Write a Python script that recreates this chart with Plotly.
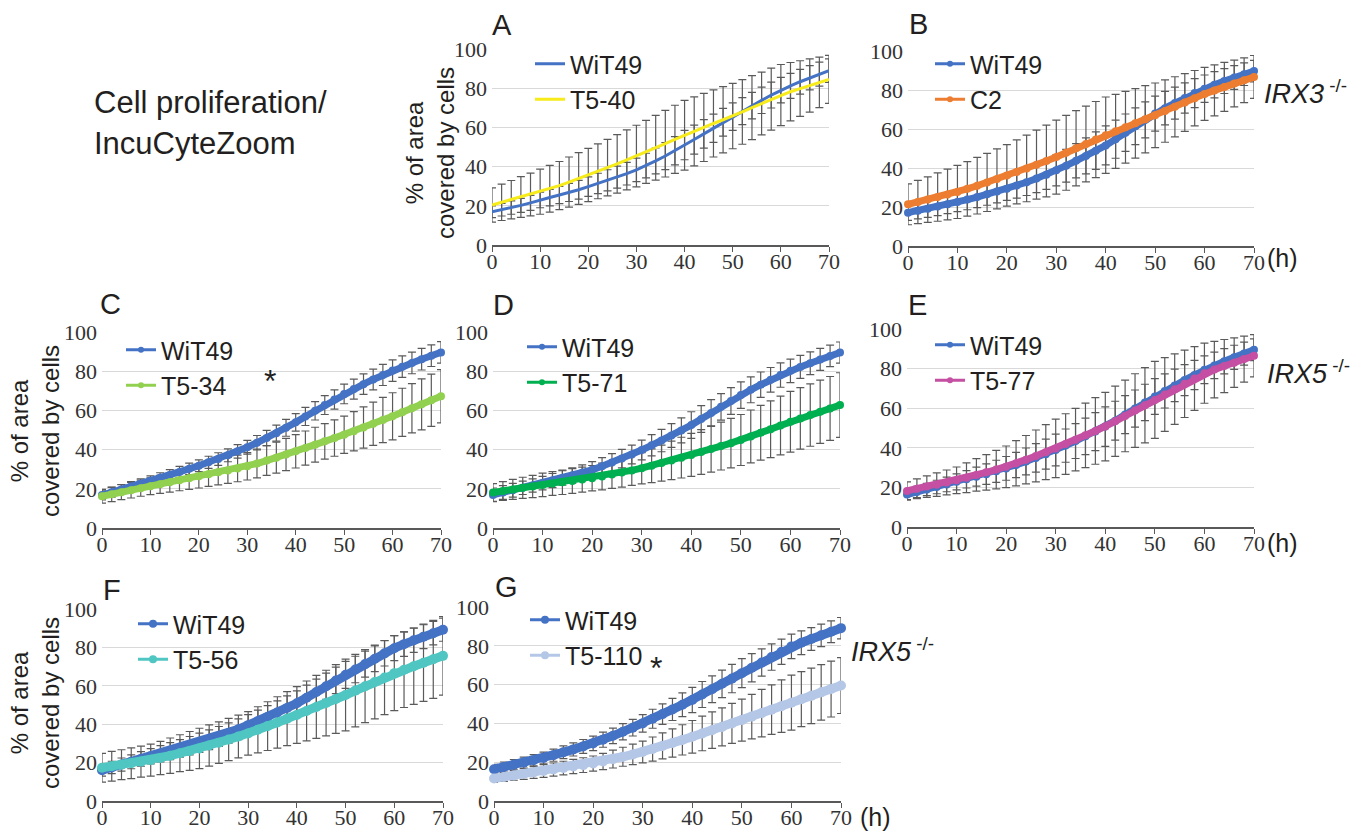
import plotly.graph_objects as go

W, H = 1362, 834

# ---------------- data ----------------
HOURS = list(range(0, 71, 2))
TICKS_X = [0, 10, 20, 30, 40, 50, 60, 70]
TICKS_Y = [0, 20, 40, 60, 80, 100]

# Panel A
A_WIT49 = [17, 18, 19.1, 20.2, 21.5, 23, 24.2, 25.5, 26.8, 28.2, 29.8, 31.4, 33, 34.6, 36.4, 38.3, 40.5, 42.9,
           45.4, 48.1, 51, 53.8, 56.7, 59.6, 62.6, 65.5, 68.3, 71.1, 73.8, 76.5, 79, 81.2, 83.3, 85.3, 87.2, 89]
A_T540 = [20.4, 21.8, 23.1, 24.5, 25.8, 27.2, 28.7, 30.3, 32.1, 33.9, 35.7, 37.6, 39.5, 41.4, 43.4, 45.4, 47.5, 49.6,
          51.7, 53.9, 56, 58, 60, 62, 63.9, 65.8, 67.9, 70.1, 72.2, 74.4, 76.5, 78.2, 79.8, 81.4, 83, 84.5]
A_WIT49_SD = [3, 3.2, 3.4, 3.6, 3.8, 4, 4.2, 4.4, 4.6, 4.8, 5, 5.2, 5.4, 5.6, 5.8, 6, 6.3, 6.6,
              6.9, 7.2, 7.5, 7.4, 7.3, 7.2, 7.1, 7, 6.9, 6.8, 6.7, 6.6, 6.5, 6.4, 6.3, 6.2, 6.1, 6]
A_T540_SD = [8.7, 9.3, 9.8, 10.4, 10.9, 11.5, 11.9, 12.3, 12.8, 13.2, 13.6, 14, 14.4, 14.9, 15.3, 15.7, 16.1, 16.5,
             17, 17.4, 17.8, 17.6, 17.4, 17.1, 16.9, 16.7, 16.5, 16.3, 16, 15.8, 15.6, 14.9, 14.2, 13.6, 12.9, 12.2]

# Panel B
B_WIT49 = [17.1, 18.1, 19.1, 20.2, 21.4, 22.6, 23.8, 25.1, 26.5, 27.9, 29.4, 31, 32.7, 34.6, 36.6, 38.8, 41.2, 43.7,
           46.2, 48.9, 51.6, 54.8, 58.1, 61.4, 64.7, 67.9, 70.7, 73.3, 75.9, 78.4, 80.7, 82.7, 84.6, 86.4, 88.1, 89.7]
B_C2 = [21.4, 22.6, 23.8, 25.1, 26.4, 27.7, 29.3, 30.9, 32.6, 34.4, 36.2, 38, 39.8, 41.7, 43.6, 45.6, 47.8, 50.1,
        52.3, 54.6, 56.8, 58.8, 60.9, 62.9, 65, 67, 69.2, 71.4, 73.6, 75.8, 78, 79.8, 81.6, 83.3, 85, 86.7]
B_WIT49_SD = [4, 4.2, 4.4, 4.6, 4.8, 5, 5.2, 5.4, 5.6, 5.8, 6, 6.4, 6.8, 7.2, 7.6, 8, 8.4, 8.8,
              9.2, 9.6, 10, 9.8, 9.6, 9.4, 9.2, 9, 8.6, 8.2, 7.8, 7.4, 7, 6.7, 6.4, 6.1, 5.8, 5.5]
B_C2_SD = [10.5, 11.1, 11.7, 12.4, 13, 13.6, 14, 14.5, 14.9, 15.4, 15.8, 16.4, 17.1, 17.7, 18.4, 19, 19.2, 19.3,
           19.4, 19.5, 19.6, 19, 18.4, 17.8, 17.2, 16.6, 16, 15.4, 14.8, 14.2, 13.6, 13.1, 12.6, 12, 11.5, 11]

# Panel C
C_WIT49 = [16.8, 18.2, 19.7, 21.2, 22.6, 24.1, 25.6, 27.1, 28.6, 30.2, 31.8, 33.5, 35.2, 37.1, 39.1, 41.2, 43.5, 45.9,
           48.4, 51.1, 53.9, 56.9, 59.8, 62.7, 65.6, 68.4, 70.9, 73.4, 75.8, 78.1, 80.3, 82.3, 84.2, 86.1, 87.9, 89.6]
C_T534 = [16.2, 17.2, 18.3, 19.3, 20.3, 21.3, 22.3, 23.3, 24.3, 25.4, 26.4, 27.4, 28.4, 29.4, 30.4, 31.5, 32.9, 34.4,
          35.9, 37.5, 39.1, 40.8, 42.5, 44.2, 45.9, 47.6, 49.4, 51.3, 53.2, 55.1, 57, 59, 61.1, 63.1, 65.2, 67.2]
C_WIT49_SD = [2.5, 2.5, 2.5, 2.5, 2.5, 2.5, 2.6, 2.7, 2.8, 2.9, 3, 3.1, 3.2, 3.3, 3.4, 3.5, 3.7, 3.9,
              4.1, 4.3, 4.5, 4.6, 4.7, 4.8, 4.9, 5, 5.1, 5.2, 5.3, 5.4, 5.5, 5.5, 5.5, 5.5, 5.5, 5.5]
C_T534_SD = [3.5, 3.7, 3.8, 4, 4.1, 4.3, 4.6, 5, 5.3, 5.7, 6, 6.2, 6.4, 6.6, 6.8, 7, 7.3, 7.6,
             7.9, 8.2, 8.5, 8.7, 8.9, 9.1, 9.3, 9.5, 10, 10.5, 11, 11.5, 12, 12.3, 12.6, 13, 13.3, 13.6]

# Panel D
D_WIT49 = [16.9, 18.1, 19.3, 20.5, 21.7, 22.9, 24.2, 25.5, 26.8, 28.2, 29.7, 31.5, 33.4, 35.4, 37.5, 39.8, 42.2, 44.6,
           47.2, 49.8, 52.5, 55.6, 58.7, 61.8, 64.8, 67.8, 70.5, 73.1, 75.6, 78, 80.2, 82.2, 84.1, 86, 87.8, 89.5]
D_T571 = [18.1, 18.9, 19.7, 20.5, 21.2, 22, 22.7, 23.3, 24, 24.7, 25.4, 26.3, 27.3, 28.3, 29.4, 30.5, 31.8, 33.1,
          34.5, 35.9, 37.3, 38.8, 40.3, 41.8, 43.3, 44.9, 46.7, 48.6, 50.4, 52.3, 54.2, 55.9, 57.6, 59.3, 61, 62.7]
D_WIT49_SD = [3.5, 3.5, 3.5, 3.4, 3.4, 3.4, 3.6, 3.7, 3.9, 4, 4.2, 4.4, 4.5, 4.7, 4.8, 5, 5.4, 5.7,
              6.1, 6.4, 6.8, 6.8, 6.8, 6.8, 6.8, 6.8, 6.6, 6.5, 6.3, 6.2, 6, 5.9, 5.8, 5.6, 5.5, 5.4]
D_T571_SD = [4.5, 4.8, 5.1, 5.4, 5.7, 6, 6.1, 6.2, 6.3, 6.4, 6.5, 6.8, 7.1, 7.4, 7.7, 8, 8.6, 9.2,
             9.8, 10.4, 11, 11.4, 11.8, 12.2, 12.6, 13, 13.5, 14, 14.5, 15, 15.5, 15.7, 15.9, 16.1, 16.3, 16.5]

# Panel E
E_WIT49 = [16.4, 17.7, 18.9, 20.2, 21.5, 22.8, 24.1, 25.4, 26.7, 28.1, 29.6, 31.3, 33.1, 34.9, 36.8, 38.9, 41.1, 43.4,
           45.8, 48.2, 50.7, 53.7, 56.8, 59.8, 62.9, 65.9, 68.7, 71.5, 74.2, 76.8, 79.4, 81.6, 83.7, 85.7, 87.6, 89.5]
E_T577 = [18.2, 19.3, 20.4, 21.4, 22.5, 23.6, 24.9, 26.3, 27.6, 29, 30.4, 32.2, 34, 35.9, 37.8, 39.7, 41.9, 44.1,
          46.3, 48.5, 50.7, 53.4, 56.1, 58.8, 61.5, 64.2, 66.9, 69.6, 72.3, 75, 77.7, 79.5, 81.3, 83, 84.8, 86.5]
E_WIT49_SD = [2.5, 2.8, 3.1, 3.4, 3.7, 4, 4.4, 4.8, 5.2, 5.6, 6, 6.4, 6.8, 7.2, 7.6, 8, 8.4, 8.8,
              9.2, 9.6, 10, 9.8, 9.6, 9.4, 9.2, 9, 8.6, 8.2, 7.8, 7.4, 7, 6.7, 6.4, 6.1, 5.8, 5.5]
E_T577_SD = [4.6, 5, 5.4, 5.9, 6.3, 6.7, 7.5, 8.2, 9, 9.7, 10.5, 11.4, 12.2, 13.1, 13.9, 14.8, 15.3, 15.8,
             16.3, 16.8, 17.3, 17.7, 18.1, 18.6, 19, 19.4, 18.6, 17.8, 17, 16.1, 15.2, 14.3, 13.4, 12.5, 11.6, 10.7]

# Panel F
F_WIT49 = [16, 17.5, 19, 20.4, 21.9, 23.3, 24.6, 26, 27.4, 28.8, 30.3, 31.9, 33.6, 35.4, 37.4, 39.5, 41.6, 43.8,
           46.1, 48.5, 50.9, 53.8, 56.8, 59.8, 62.8, 65.7, 68.5, 71.3, 74.1, 76.9, 79.6, 81.7, 83.7, 85.6, 87.4, 89.2]
F_T556 = [17.3, 18.1, 18.9, 19.7, 20.5, 21.3, 22.4, 23.6, 24.9, 26.1, 27.4, 28.9, 30.4, 32, 33.6, 35.2, 37.1, 39,
          40.9, 42.9, 44.8, 46.9, 49, 51, 53.1, 55.2, 57.5, 59.8, 62, 64.3, 66.6, 68.4, 70.2, 72, 73.8, 75.6]
F_WIT49_SD = [3, 3.2, 3.4, 3.6, 3.8, 4, 4.2, 4.4, 4.6, 4.8, 5, 5.1, 5.2, 5.3, 5.4, 5.5, 5.7, 5.9,
              6.1, 6.3, 6.5, 6.6, 6.7, 6.8, 6.9, 7, 6.9, 6.8, 6.7, 6.6, 6.5, 6.4, 6.3, 6.2, 6.1, 6]
F_T556_SD = [7.5, 7.7, 7.8, 8, 8.1, 8.3, 8.7, 9.2, 9.6, 10.1, 10.5, 10.7, 10.8, 11, 11.1, 11.3, 12, 12.7,
             13.4, 14.1, 14.8, 15.6, 16.4, 17.1, 17.9, 18.7, 18.9, 19, 19.2, 19.3, 19.5, 19.7, 19.9, 20.1, 20.3, 20.5]

# Panel G
G_WIT49 = [16.4, 17.5, 18.7, 19.8, 21, 22.2, 23.6, 25.1, 26.6, 28.1, 29.7, 31.6, 33.6, 35.7, 37.8, 40, 42.4, 44.8,
           47.2, 49.6, 52.1, 54.9, 57.6, 60.4, 63.1, 65.9, 68.7, 71.4, 74.2, 76.9, 79.7, 81.6, 83.5, 85.4, 87.2, 89.1]
G_T5110 = [11.6, 12.4, 13.2, 13.9, 14.7, 15.5, 16.2, 17, 17.8, 18.5, 19.3, 20.4, 21.6, 22.8, 24, 25.3, 26.8, 28.4,
           29.9, 31.5, 33.1, 34.8, 36.5, 38.2, 40, 41.7, 43.5, 45.3, 47.1, 48.9, 50.7, 52.5, 54.2, 56, 57.7, 59.5]
G_WIT49_SD = [2.5, 2.6, 2.7, 2.8, 2.9, 3, 3.1, 3.3, 3.4, 3.6, 3.7, 3.9, 4, 4.2, 4.3, 4.5, 4.9, 5.3,
              5.7, 6.1, 6.5, 6.7, 6.9, 7.1, 7.3, 7.5, 7.3, 7, 6.8, 6.5, 6.3, 6.1, 5.9, 5.8, 5.6, 5.5]
G_T5110_SD = [2, 2.3, 2.5, 2.8, 3, 3.3, 3.4, 3.5, 3.7, 3.8, 3.9, 4.2, 4.6, 4.9, 5.3, 5.6, 6.2, 6.7,
              7.3, 7.8, 8.4, 8.9, 9.4, 9.8, 10.3, 10.8, 11.5, 12.2, 12.8, 13.5, 14.2, 14.2, 14.3, 14.3, 14.4, 14.4]

# ---------------- styling ----------------
BLUE = '#4472C4'
ERR = '#5a5a5a'
SANS = 'Liberation Sans, Arial, sans-serif'
SERIF = 'Liberation Serif, Times New Roman, serif'
TXT = '#231f20'
OFF = 8  # the page body margin shifts the figure by this many pixels


def px(x):
    return (x - OFF) / W


def py(y):
    return 1 - (y - OFF) / H


panels = [
    dict(letter='A', box=(492, 829, 49, 245), lw=3, ms=0, legend=(530, 41), letter_pos=(502, 25),
         series=[('WiT49', A_WIT49, A_WIT49_SD, BLUE), ('T5-40', A_T540, A_T540_SD, '#F7EB1A')]),
    dict(letter='B', box=(908, 1254, 51, 246), lw=7, ms=8, legend=(930, 41), letter_pos=(918, 24),
         series=[('WiT49', B_WIT49, B_WIT49_SD, BLUE), ('C2', B_C2, B_C2_SD, '#ED7D31')]),
    dict(letter='C', box=(102, 441, 332, 528), lw=7, ms=8, legend=(121, 327), letter_pos=(110, 304),
         series=[('WiT49', C_WIT49, C_WIT49_SD, BLUE), ('T5-34', C_T534, C_T534_SD, '#92D050')]),
    dict(letter='D', box=(493, 840, 332, 528), lw=7, ms=8, legend=(522, 324), letter_pos=(503, 305),
         series=[('WiT49', D_WIT49, D_WIT49_SD, BLUE), ('T5-71', D_T571, D_T571_SD, '#00B050')]),
    dict(letter='E', box=(907, 1254, 329, 527), lw=7, ms=8, legend=(930, 322), letter_pos=(917, 305),
         series=[('WiT49', E_WIT49, E_WIT49_SD, BLUE), ('T5-77', E_T577, E_T577_SD, '#C54FA2')]),
    dict(letter='F', box=(102, 443, 609, 801), lw=9, ms=10, legend=(133, 601), letter_pos=(112, 590),
         series=[('WiT49', F_WIT49, F_WIT49_SD, BLUE), ('T5-56', F_T556, F_T556_SD, '#4FC6C2')]),
    dict(letter='G', box=(494, 841, 607, 801), lw=9, ms=10, legend=(525, 597), letter_pos=(506, 587),
         series=[('WiT49', G_WIT49, G_WIT49_SD, BLUE), ('T5-110', G_T5110, G_T5110_SD, '#B4C7E7')]),
]

fig = go.Figure()
layout = dict(
    width=W, height=H, margin=dict(l=0, r=0, t=0, b=0, pad=0, autoexpand=False),
    paper_bgcolor='white', plot_bgcolor='white',
    annotations=[],
)

for i, p in enumerate(panels):
    n = '' if i == 0 else str(i + 1)
    xa, ya = 'x' + n, 'y' + n
    lg = 'legend' + n
    x0, x1, y0, y1 = p['box']
    # error bars first, so the lines sit on top
    for name, vals, sd, col in p['series']:
        fig.add_trace(go.Scatter(
            x=HOURS, y=vals, mode='markers', xaxis=xa, yaxis=ya,
            marker=dict(size=2, color='rgba(0,0,0,0)'),
            error_y=dict(type='data', array=sd, visible=True, color=ERR, thickness=1.2, width=4),
            showlegend=False, hoverinfo='skip', cliponaxis=False))
    for name, vals, sd, col in p['series']:
        if p['ms']:
            fig.add_trace(go.Scatter(
                x=HOURS, y=vals, mode='lines+markers', name=name, xaxis=xa, yaxis=ya,
                line=dict(color=col, width=p['lw']), showlegend=False,
                marker=dict(color=col, size=p['ms']), cliponaxis=False))
            # legend key drawn with a thin line and small dot, as in the reference
            fig.add_trace(go.Scatter(
                x=[None], y=[None], mode='lines+markers', name=name, xaxis=xa, yaxis=ya, legend=lg,
                line=dict(color=col, width=3), marker=dict(color=col, size=p['ms'] - 2)))
        else:
            fig.add_trace(go.Scatter(
                x=HOURS, y=vals, mode='lines', name=name, xaxis=xa, yaxis=ya, legend=lg,
                line=dict(color=col, width=p['lw']), cliponaxis=False))

    layout['xaxis' + n] = dict(
        domain=[px(x0), px(x1)], anchor=ya, range=[0, 70], tickvals=TICKS_X, automargin=False,
        showgrid=False, zeroline=False, showline=True, linecolor='#595959', linewidth=1.5,
        ticks='outside', ticklen=5, tickcolor='#595959', tickwidth=1.2, ticklabelstandoff=-9,
        tickfont=dict(family=SERIF, size=22, color='#333333'))
    layout['yaxis' + n] = dict(
        domain=[py(y1), py(y0)], anchor=xa, range=[0, 100], tickvals=TICKS_Y, automargin=False,
        showgrid=True, gridcolor='#d9d9d9', gridwidth=1, zeroline=False, showline=False,
        ticks='', ticklabelstandoff=4,
        tickfont=dict(family=SERIF, size=22, color='#333333'))
    lx, ly = p['legend']
    layout[lg] = dict(
        x=px(lx), y=py(ly), xanchor='left', yanchor='top', bgcolor='rgba(0,0,0,0)',
        font=dict(family=SANS, size=25, color=TXT), tracegroupgap=0)
    layout['annotations'].append(dict(
        text=p['letter'], x=px(p['letter_pos'][0]), y=py(p['letter_pos'][1]), xref='paper', yref='paper',
        showarrow=False, xanchor='center', yanchor='middle', font=dict(family=SANS, size=29, color=TXT)))

# y-axis titles
for cx, cy in [(430, 153), (35, 431), (35, 703)]:
    layout['annotations'].append(dict(
        text='% of area<br>covered by cells', x=px(cx), y=py(cy), xref='paper', yref='paper',
        textangle=-90, showarrow=False, xanchor='center', yanchor='middle',
        font=dict(family=SANS, size=24, color=TXT)))

# "(h)" unit labels
for hx, hy in [(1265, 258), (1265, 543), (858, 817)]:
    layout['annotations'].append(dict(
        text='(h)', x=px(hx), y=py(hy), xref='paper', yref='paper', showarrow=False,
        xanchor='left', yanchor='middle', font=dict(family=SANS, size=25, color=TXT)))

# genotype labels
for t, gx, gy in [('IRX3', 1262, 92), ('IRX5', 1265, 372), ('IRX5', 849, 650)]:
    layout['annotations'].append(dict(
        text='<i>' + t + '</i><sup> -/-</sup>', x=px(gx), y=py(gy), xref='paper', yref='paper',
        showarrow=False, xanchor='left', yanchor='middle', font=dict(family=SANS, size=27, color=TXT)))

# significance asterisks
for sx, sy in [(270, 381), (656, 668)]:
    layout['annotations'].append(dict(
        text='*', x=px(sx), y=py(sy), xref='paper', yref='paper', showarrow=False,
        xanchor='center', yanchor='middle', font=dict(family=SANS, size=32, color=TXT)))

# figure title
for t, ty in [('Cell proliferation/', 103), ('IncuCyteZoom', 143)]:
    layout['annotations'].append(dict(
        text=t, x=px(92), y=py(ty), xref='paper', yref='paper', showarrow=False,
        xanchor='left', yanchor='middle', font=dict(family=SANS, size=31, color=TXT)))

fig.update_layout(**layout)
fig.write_html('out.html')
